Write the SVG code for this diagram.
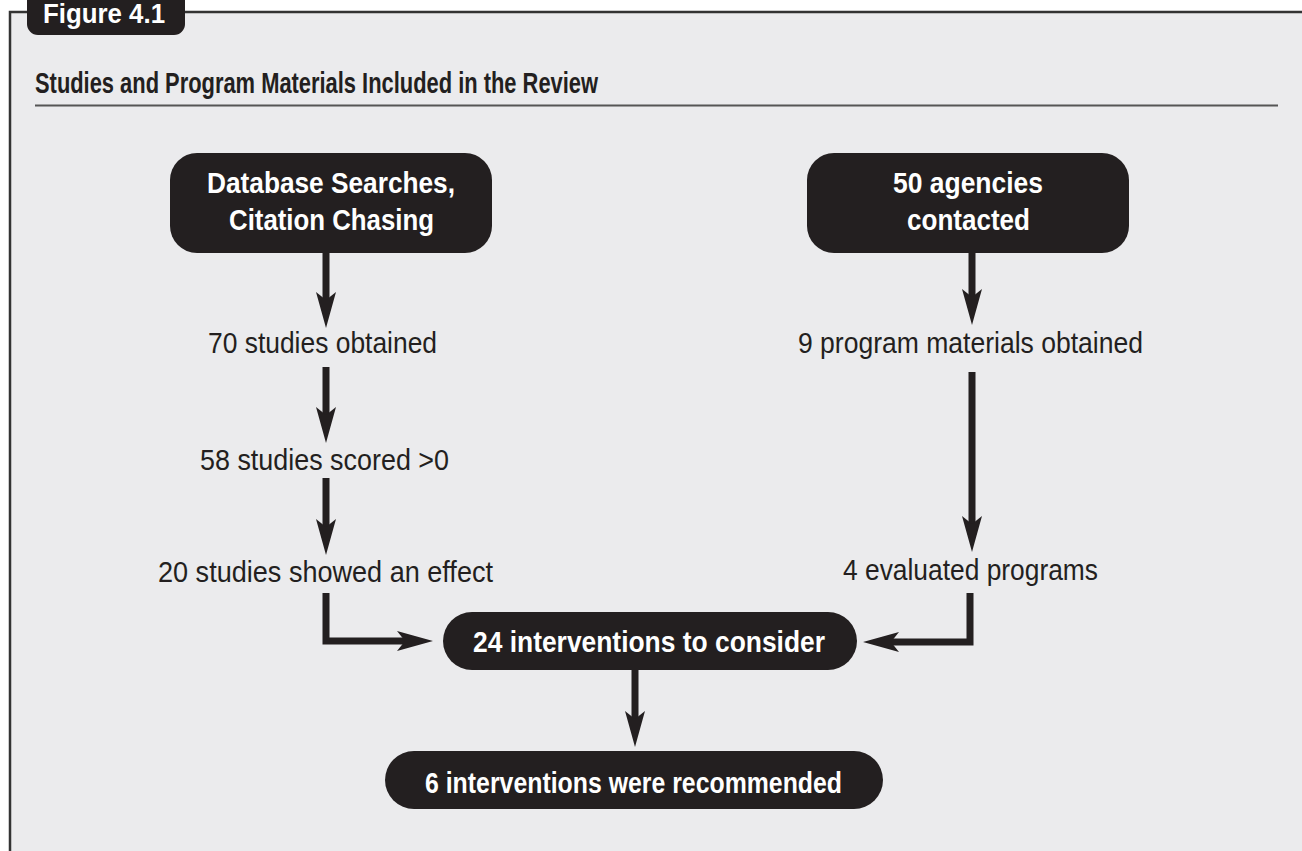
<svg xmlns="http://www.w3.org/2000/svg" width="1302" height="851" viewBox="0 0 1302 851">
<style>
.box{fill:#231F20;}
.bt{font-family:"Liberation Sans",Arial,sans-serif;font-weight:bold;font-size:29px;fill:#FFFFFF;text-anchor:middle;}
.lt{font-family:"Liberation Sans",Arial,sans-serif;font-size:29px;fill:#231F20;text-anchor:middle;}
.conn{fill:none;stroke:#231F20;stroke-width:7;stroke-linejoin:miter;marker-end:url(#ah);}
</style>
<defs>
<marker id="ah" viewBox="0 0 36 20" refX="8" refY="10" markerWidth="36" markerHeight="20" markerUnits="userSpaceOnUse" orient="auto">
<path d="M0,0 L36,10 L0,20 L8,10 Z" fill="#231F20"/>
</marker>
</defs>
<rect x="0" y="0" width="1302" height="851" fill="#FFFFFF"/>
<rect x="10" y="12" width="1292" height="839" fill="#EBEBED"/>
<path d="M10,851 V12 H1302" fill="none" stroke="#333333" stroke-width="2.5"/>
<g id="figure-tab">
<rect x="27" y="-20" width="158" height="55" rx="11" class="box"/>
<text x="43" y="23" class="bt" style="text-anchor:start;font-size:28px" textLength="122" lengthAdjust="spacingAndGlyphs">Figure 4.1</text>
</g>
<g id="title">
<text x="35" y="93" style="font-family:'Liberation Sans',Arial,sans-serif;font-weight:bold;font-size:29px;fill:#231F20" textLength="563" lengthAdjust="spacingAndGlyphs">Studies and Program Materials Included in the Review</text>
<line x1="35" y1="105.5" x2="1278" y2="105.5" stroke="#555555" stroke-width="2"/>
</g>
<g id="connectors">
<path class="conn" d="M326,253 V300"/>
<path class="conn" d="M326,367 V415"/>
<path class="conn" d="M326,478 V527"/>
<path class="conn" d="M326,593 V641 H405"/>
<path class="conn" d="M972,253 V297"/>
<path class="conn" d="M972,372 V524"/>
<path class="conn" d="M970,593 V642 H891"/>
<path class="conn" d="M635,670 V719"/>
</g>
<g id="database-searches">
<rect x="170" y="153" width="322" height="100" rx="27" class="box"/>
<text x="331" y="193" class="bt" textLength="248" lengthAdjust="spacingAndGlyphs">Database Searches,</text>
<text x="331.5" y="230" class="bt" textLength="205" lengthAdjust="spacingAndGlyphs">Citation Chasing</text>
</g>
<g id="agencies-contacted">
<rect x="807" y="153" width="322" height="100" rx="27" class="box"/>
<text x="968" y="193" class="bt" textLength="150" lengthAdjust="spacingAndGlyphs">50 agencies</text>
<text x="968.5" y="230" class="bt" textLength="123" lengthAdjust="spacingAndGlyphs">contacted</text>
</g>
<g id="studies-obtained">
<text x="322.5" y="353" class="lt" textLength="229" lengthAdjust="spacingAndGlyphs">70 studies obtained</text>
</g>
<g id="studies-scored">
<text x="324.5" y="470" class="lt" textLength="249" lengthAdjust="spacingAndGlyphs">58 studies scored &gt;0</text>
</g>
<g id="studies-effect">
<text x="325.5" y="582" class="lt" textLength="335" lengthAdjust="spacingAndGlyphs">20 studies showed an effect</text>
</g>
<g id="program-materials">
<text x="970.5" y="353" class="lt" textLength="345" lengthAdjust="spacingAndGlyphs">9 program materials obtained</text>
</g>
<g id="evaluated-programs">
<text x="970.5" y="580" class="lt" textLength="255" lengthAdjust="spacingAndGlyphs">4 evaluated programs</text>
</g>
<g id="interventions-consider">
<rect x="443" y="612" width="414" height="58" rx="29" class="box"/>
<text x="649" y="652" class="bt" textLength="352" lengthAdjust="spacingAndGlyphs">24 interventions to consider</text>
</g>
<g id="interventions-recommended">
<rect x="385" y="751" width="498" height="58" rx="29" class="box"/>
<text x="633.5" y="793" class="bt" textLength="417" lengthAdjust="spacingAndGlyphs">6 interventions were recommended</text>
</g>
</svg>
